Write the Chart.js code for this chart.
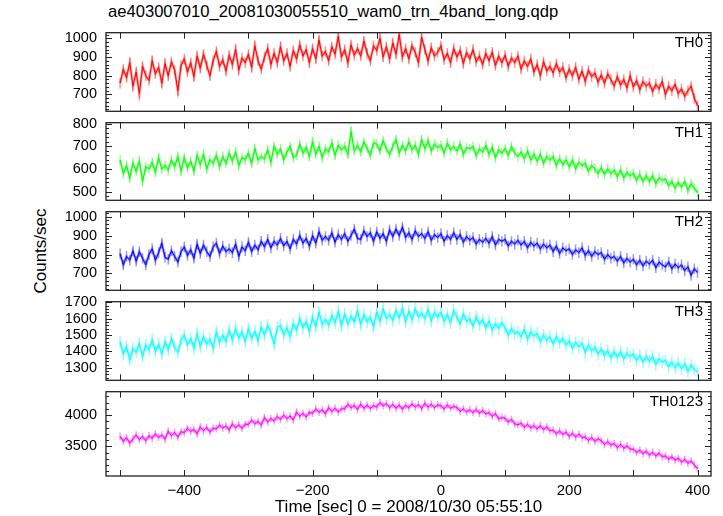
<!DOCTYPE html>
<html>
<head>
<meta charset="utf-8">
<script src="https://cdn.jsdelivr.net/npm/chart.js@4.4.1/dist/chart.umd.min.js"></script>
<style>
  body { margin: 0; background: #fff; }
  #wrap { position: relative; width: 723px; height: 516px; font-family: "Liberation Sans", Arial, sans-serif; color: #000; }
  #wrap canvas { position: absolute; left: 0; }
  .title { position: absolute; left: 108px; top: 2px; font-size: 16.6px; white-space: nowrap; }
  .ylab { position: absolute; left: 41px; top: 251px; transform: translate(-50%, -50%) rotate(-90deg); font-size: 17px; white-space: nowrap; }
</style>
</head>
<body>
<div id="wrap">
  <div class="title">ae403007010_20081030055510_wam0_trn_4band_long.qdp</div>
  <div class="ylab">Counts/sec</div>
</div>
<script>
// time bins (sec from 2008/10/30 05:55:10), 5 s apart
const times = [];
for (let t = -500; t <= 400; t += 5) times.push(t);

// count rates, one per time bin
const th0 = [
  760, 835, 790, 870, 745, 820, 705, 850, 800, 775,
  880, 810, 845, 760, 865, 800, 875, 830, 720, 855,
  890, 820, 870, 795, 905, 840, 915, 855, 800, 880,
  930, 850, 885, 825, 910, 860, 940, 830, 895, 870,
  915, 845, 960, 880, 835, 900, 945, 860, 920, 870,
  955, 880, 920, 850, 935, 890, 965, 905, 940, 870,
  945, 890, 990, 905, 930, 880, 955, 915, 1010, 900,
  940, 870, 965, 910, 945, 905, 985, 920, 880, 960,
  935, 1000, 900, 955, 890, 975, 915, 1020, 900, 945,
  890, 960, 925, 870, 1005, 940, 880, 950, 905, 925,
  960, 885, 920, 870, 945, 900, 935, 865, 925, 890,
  940, 875, 905, 860, 920, 880, 925, 855, 905, 870,
  910, 850, 895, 870, 905, 835, 880, 850, 890, 820,
  860, 800, 875, 825, 850, 815, 865, 820, 845, 790,
  835, 800, 845, 780, 825, 770, 830, 795, 815, 765,
  805, 760, 810, 780, 745, 795, 750, 780, 735, 800,
  740, 775, 725, 770, 745, 760, 715, 755, 730, 770,
  700, 745, 720, 755, 705, 730, 690, 720, 745, 680,
  640
];
const th1 = [
  640, 580, 615, 560, 625, 590, 635, 545, 610, 600,
  630, 585, 650, 600, 615, 595, 640, 610, 655, 590,
  650, 605, 635, 590, 660, 620, 665, 600, 640, 625,
  660, 610, 655, 625, 670, 635, 675, 615, 650, 640,
  670, 625, 690, 640, 655, 645, 685, 630, 700, 665,
  690, 640, 675, 700, 650, 660, 710, 670, 695, 655,
  720, 665, 700, 650, 690, 675, 715, 660, 705, 685,
  700, 665, 765, 680, 705, 675, 720, 690, 660, 715,
  710, 680, 725, 690, 665, 700, 730, 670, 705, 680,
  720, 685, 705, 665, 730, 690, 725, 680, 710, 695,
  705, 670, 715, 685, 700, 680, 710, 665, 695, 690,
  700, 660, 690, 675, 705, 665, 695, 650, 685, 670,
  690, 660, 700, 670, 655, 675, 645, 680, 640, 665,
  635, 665, 625, 655, 640, 655, 615, 645, 620, 640,
  610, 640, 600, 630, 615, 625, 590, 615, 600, 580,
  605, 575, 600, 580, 595, 565, 595, 560, 585, 570,
  580, 550, 575, 545, 570, 545, 570, 535, 560, 550,
  555, 525, 545, 515, 540, 520, 545, 505, 535, 515,
  495
];
const th2 = [
  805, 745, 790, 770, 820, 765, 815, 780, 745, 800,
  830, 770, 810, 860, 785, 775, 820, 790, 760, 815,
  840, 795, 825, 780, 855, 805, 850, 815, 790, 840,
  860, 805, 845, 815, 830, 810, 855, 790, 840, 820,
  865, 815, 850, 825, 870, 840, 880, 835, 870, 850,
  885, 845, 870, 830, 880, 855, 900, 860, 885, 845,
  900, 860, 920, 875, 895, 875, 915, 865, 905, 880,
  910, 870, 900, 935, 885, 880, 925, 895, 915, 870,
  920, 885, 910, 870, 930, 895, 935, 900, 945, 890,
  915, 880, 925, 895, 910, 885, 920, 875, 905, 890,
  910, 870, 900, 880, 915, 880, 905, 865, 895, 875,
  890, 855, 880, 865, 885, 860, 895, 850, 880, 870,
  880, 845, 870, 855, 875, 850, 870, 835, 865, 845,
  860, 830, 855, 835, 850, 815, 845, 805, 835, 820,
  830, 800, 825, 810, 835, 795, 820, 790, 815, 800,
  810, 775, 800, 780, 790, 765, 790, 755, 780, 760,
  775, 745, 770, 740, 765, 750, 770, 730, 760, 745,
  735, 760, 725, 750, 730, 745, 715, 735, 690, 725,
  705
];
const th3 = [
  1460, 1385, 1430, 1350, 1420, 1395, 1450, 1370, 1440, 1410,
  1470, 1400, 1445, 1385, 1460, 1410, 1480, 1425, 1395, 1470,
  1500, 1440, 1480, 1420, 1510, 1430, 1490, 1445, 1475, 1420,
  1520, 1455, 1500, 1460, 1530, 1470, 1540, 1480, 1520, 1460,
  1540, 1480, 1525, 1465, 1550, 1500, 1560, 1515, 1445, 1545,
  1560, 1500, 1545, 1490, 1570, 1530, 1600, 1545, 1585, 1520,
  1610, 1550, 1640, 1565, 1595, 1560, 1620, 1575, 1645, 1555,
  1630, 1570, 1615, 1580, 1650, 1565, 1625, 1580, 1610, 1550,
  1640, 1585, 1660, 1600, 1625, 1590, 1650, 1605, 1665, 1580,
  1645, 1595, 1660, 1610, 1635, 1600, 1655, 1585, 1640, 1610,
  1640, 1585, 1625, 1575, 1650, 1610, 1570, 1630, 1585, 1600,
  1555, 1610, 1565, 1595, 1545, 1585, 1530, 1570, 1540, 1575,
  1545, 1500, 1540, 1510, 1520, 1490, 1535, 1475, 1520, 1495,
  1510, 1460, 1500, 1470, 1490, 1445, 1490, 1455, 1480, 1440,
  1465, 1420, 1455, 1430, 1450, 1395, 1440, 1405, 1425, 1385,
  1415, 1375, 1405, 1360, 1400, 1365, 1400, 1355, 1390, 1370,
  1385, 1345, 1375, 1335, 1370, 1340, 1370, 1320, 1355, 1335,
  1345, 1305, 1335, 1300, 1330, 1295, 1325, 1280, 1315, 1290,
  1275
];
const th0123 = [
  3660, 3580, 3640, 3550, 3620, 3680, 3610, 3655, 3590, 3670,
  3630, 3700, 3645, 3680, 3615, 3740, 3670, 3720, 3650, 3735,
  3720, 3790, 3740, 3770, 3700, 3810, 3750, 3800, 3730, 3790,
  3780, 3840, 3795, 3825, 3760, 3860, 3800, 3845, 3790, 3855,
  3850, 3920, 3865, 3900, 3840, 3960, 3890, 3945, 3910, 3975,
  3930, 4000, 3945, 3985, 3920, 4050, 3980, 4030, 3970, 4045,
  4030, 4100, 4045, 4085, 4020, 4120, 4060, 4110, 4050, 4100,
  4100, 4170, 4120, 4155, 4090, 4175, 4110, 4160, 4105, 4150,
  4130, 4200, 4150, 4185, 4120, 4170, 4110, 4160, 4095, 4155,
  4120, 4180, 4130, 4165, 4105, 4190, 4130, 4175, 4120, 4165,
  4150, 4100, 4160, 4110, 4140, 4120, 4060, 4100, 4050, 4085,
  4040, 4090, 4030, 4075, 4020, 4040, 3980, 4025, 3940, 3960,
  3950, 3890, 3930, 3860, 3845, 3870, 3805, 3850, 3795, 3830,
  3780, 3830, 3770, 3810, 3750, 3760, 3700, 3745, 3690, 3725,
  3660, 3710, 3650, 3695, 3640, 3650, 3595, 3640, 3580, 3620,
  3590, 3530, 3575, 3520, 3545, 3480, 3530, 3470, 3510, 3455,
  3455, 3400, 3440, 3385, 3420, 3360, 3405, 3350, 3390, 3335,
  3345, 3295, 3330, 3280, 3310, 3250, 3290, 3230, 3265, 3200,
  3140
];

// 1-sigma error of each band's rate
const errTH = [28, 22, 28, 38, 60];

// x tick labels
const xLabels = [-400, -200, 0, 200, 400];

const panels = [
  { name: 'TH0', values: th0, color: '#ff0000', light: 'rgba(255,0,0,0.4)', min: 610, max: 1030, major: 100, minor: 20 },
  { name: 'TH1', values: th1, color: '#00ff00', light: 'rgba(0,255,0,0.4)', min: 461, max: 805, major: 100, minor: 20 },
  { name: 'TH2', values: th2, color: '#0000ff', light: 'rgba(0,0,255,0.4)', min: 611, max: 1026, major: 100, minor: 20 },
  { name: 'TH3', values: th3, color: '#00ffff', light: 'rgba(0,255,255,0.4)', min: 1224, max: 1704, major: 100, minor: 20 },
  { name: 'TH0123', values: th0123, color: '#ff00ff', light: 'rgba(255,0,255,0.4)', min: 3025, max: 4375, major: 500, minor: 100 },
];
const edges = [27, 117, 206, 296, 386, 476];
const fontFam = '"Liberation Sans", Arial, sans-serif';

// vertical error bars, drawn under the line
const errBars = {
  id: 'errBars',
  beforeDatasetsDraw(chart, args, opts) {
    const { ctx, chartArea: a, scales: { x, y } } = chart;
    ctx.save();
    ctx.beginPath();
    ctx.rect(a.left, a.top, a.right - a.left, a.bottom - a.top);
    ctx.clip();
    ctx.strokeStyle = opts.color;
    ctx.lineWidth = 1.5;
    ctx.beginPath();
    chart.data.datasets[0].data.forEach((pt) => {
      const px = x.getPixelForValue(pt.x);
      ctx.moveTo(px, y.getPixelForValue(pt.y - opts.err));
      ctx.lineTo(px, y.getPixelForValue(pt.y + opts.err));
    });
    ctx.stroke();
    ctx.restore();
  }
};

// frame, inward ticks and the band name, qdp style
const frame = {
  id: 'frame',
  afterDatasetsDraw(chart, args, opts) {
    const { ctx, chartArea: a, scales: { x, y } } = chart;
    ctx.save();
    ctx.strokeStyle = '#222';
    ctx.lineWidth = 1.3;
    ctx.strokeRect(a.left, a.top, a.right - a.left, a.bottom - a.top);
    ctx.beginPath();
    for (let t = -500; t <= 400; t += 100) {
      const px = Math.round(x.getPixelForValue(t)) + 0.5;
      ctx.moveTo(px, a.top); ctx.lineTo(px, a.top + 6);
      ctx.moveTo(px, a.bottom); ctx.lineTo(px, a.bottom - 6);
    }
    for (let v = Math.ceil(y.min / opts.minor) * opts.minor; v <= y.max; v += opts.minor) {
      const py = Math.round(y.getPixelForValue(v)) + 0.5;
      const len = v % opts.major === 0 ? 6 : 3;
      ctx.moveTo(a.left, py); ctx.lineTo(a.left + len, py);
      ctx.moveTo(a.right, py); ctx.lineTo(a.right - len, py);
    }
    ctx.lineWidth = 1;
    ctx.stroke();
    ctx.fillStyle = '#000';
    ctx.font = '15px ' + fontFam;
    ctx.textAlign = 'right';
    ctx.textBaseline = 'top';
    ctx.fillText(opts.label, a.right - 8, a.top + 3);
    ctx.restore();
  }
};

const wrap = document.getElementById('wrap');
const pad = 12;

panels.forEach((p, i) => {
  const last = i === panels.length - 1;
  const top = edges[i] - pad;
  const h = last ? 516 - top : (edges[i + 1] - edges[i]) + 2 * pad;
  const cv = document.createElement('canvas');
  cv.width = 723;
  cv.height = h;
  cv.style.top = top + 'px';
  wrap.appendChild(cv);

  const pts = p.values.map((v, k) => ({ x: times[k], y: v }));
  const yTicks = [];
  for (let v = Math.ceil(p.min / p.major) * p.major; v <= p.max; v += p.major) yTicks.push(v);

  const xScale = {
    type: 'linear',
    min: -522,
    max: 421,
    display: last,
    grid: { display: false, drawTicks: false },
    border: { display: false },
    afterBuildTicks: (s) => { s.ticks = xLabels.map((v) => ({ value: v })); },
    ticks: {
      autoSkip: false,
      maxRotation: 0,
      padding: 6,
      color: '#000',
      font: { family: fontFam, size: 15 },
      callback: (v) => (v < 0 ? '\u2212' + Math.abs(v) : String(v)),
    },
    title: {
      display: true,
      text: 'Time [sec] 0 = 2008/10/30 05:55:10',
      color: '#000',
      font: { family: fontFam, size: 17 },
      padding: { top: 0, bottom: -2 },
    },
  };
  if (last) xScale.afterFit = (s) => { s.height = 40; };

  new Chart(cv.getContext('2d'), {
    type: 'line',
    data: {
      datasets: [
        { data: pts, borderColor: p.color, borderWidth: 1, pointRadius: 0, order: 0 },
        { data: pts, borderColor: p.light, borderWidth: 2.5, pointRadius: 0, order: 1 },
      ],
    },
    options: {
      responsive: false,
      animation: false,
      devicePixelRatio: 1,
      layout: { padding: { left: 0, right: 12, top: pad, bottom: last ? 0 : pad } },
      plugins: {
        legend: { display: false },
        tooltip: { enabled: false },
        errBars: { color: p.light, err: errTH[i] },
        frame: { label: p.name, major: p.major, minor: p.minor },
      },
      scales: {
        x: xScale,
        y: {
          min: p.min,
          max: p.max,
          afterFit: (s) => { s.width = 106; },
          afterBuildTicks: (s) => { s.ticks = yTicks.map((v) => ({ value: v })); },
          grid: { display: false, drawTicks: false },
          border: { display: false },
          ticks: {
            autoSkip: false,
            padding: 9,
            color: '#000',
            font: { family: fontFam, size: 14.5 },
            callback: (v) => String(v),
          },
        },
      },
    },
    plugins: [errBars, frame],
  });
});
</script>
</body>
</html>
